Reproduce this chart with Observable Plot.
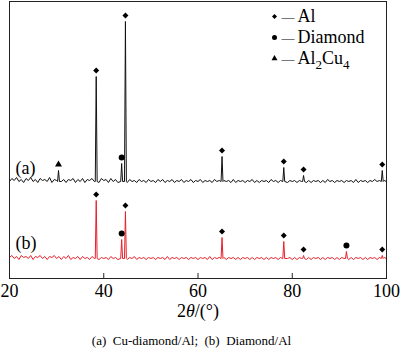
<!DOCTYPE html>
<html><head><meta charset="utf-8">
<script src="https://cdn.jsdelivr.net/npm/d3@7"></script>
<script src="https://cdn.jsdelivr.net/npm/@observablehq/plot@0.6"></script>
<style>
body{margin:0;background:#fff;}
svg, svg text{font-family:"Liberation Serif","Times New Roman",serif !important;}
#caption{font-family:"Liberation Serif","Times New Roman",serif;font-size:13px;line-height:15px;white-space:pre;text-align:center;width:383px;margin-top:15px;color:#000;}
</style></head><body>
<div id="chart"></div>
<div id="caption"></div>
<script>
// ---- data ----
const xTicks = [20, 40, 60, 80, 100];
const phases = ["Al", "Diamond", "Al2Cu4"];
const labels = ["(a)", "(b)"];
const captionText = "(a)  Cu-diamond/Al;  (b)  Diamond/Al";
const axisLabel = "2θ/(°)";

// sample (a): Cu-diamond/Al
const anglesA  = [30.4, 38.4, 43.8, 44.6, 65.1, 78.2, 82.4, 99.1];
const heightsA = [12, 106, 19, 161, 26, 15, 7, 12];
const phasesA  = ["Al2Cu4", "Al", "Diamond", "Al", "Al", "Al", "Al", "Al"];
// sample (b): Diamond/Al
const anglesB  = [38.4, 43.8, 44.6, 65.1, 78.2, 82.4, 91.5, 99.1];
const heightsB = [59, 20, 48, 22, 18, 4, 8, 4];
const phasesB  = ["Al", "Diamond", "Al", "Al", "Al", "Al", "Diamond", "Al"];

// background counts read every 0.5° from 20° to 100°
const noiseA = [1,4,2,5,1,3,0,4,2,5, 1,3,0,4,2,3,1,5,0,3, 2,4,1,3,0,3,2,4,0,3, 1,4,0,3,2,4,1,3,0,4,
  2,3,0,4,1,3,0,2,1,3, 0,3,1,2,0,3,1,2,0,3, 1,2,0,3,1,3,0,2,1,3, 0,2,1,3,0,2,1,3,0,2,
  1,3,0,2,1,2,0,3,1,2, 0,2,1,2,0,3,0,2,1,2, 0,2,1,3,0,2,0,2,1,2, 0,3,1,2,0,2,1,2,0,2,
  1,2,0,2,1,3,0,2,0,2, 1,2,0,2,0,3,1,2,0,2, 1,2,0,2,1,2,0,3,0,2, 1,2,0,2,1,3,1,2,0,2, 1];
const noiseB = [2,4,1,3,0,4,2,3,1,4, 0,3,2,4,1,3,0,3,2,4, 1,3,0,3,1,4,0,2,1,3, 0,3,1,2,0,3,1,3,0,2,
  1,2,0,3,1,2,0,2,1,3, 0,2,1,3,0,2,1,2,0,2, 1,2,0,2,1,2,0,3,0,2, 1,2,0,2,1,2,0,2,1,2,
  0,2,1,2,0,3,0,2,1,2, 0,2,0,2,1,2,0,2,0,2, 1,2,0,2,0,2,1,2,0,2, 0,2,1,2,0,2,0,2,1,2,
  0,2,0,2,1,2,0,2,0,2, 1,2,0,2,0,2,1,2,0,2, 0,2,1,2,0,2,0,2,1,2, 0,2,0,2,1,2,0,2,0,2, 1];

// vertical stacking offsets of the two patterns (intensity units)
const offsetA = 96, offsetB = 19;

// ---- build tables ----
function trace(noise, angles, heights, offset) {
  const pts = [];
  noise.forEach((n, i) => {
    const x = 20 + 0.5 * i;
    if (angles.some(a => Math.abs(a - x) < 0.3)) return;
    pts.push({x, y: offset + n});
  });
  angles.forEach((a, j) => {
    pts.push({x: a - 0.2, y: offset + 1});
    pts.push({x: a, y: offset + heights[j]});
    pts.push({x: a + 0.2, y: offset + 1});
  });
  return pts.sort((p, q) => p.x - q.x);
}
const traceA = trace(noiseA, anglesA, heightsA, offsetA);
const traceB = trace(noiseB, anglesB, heightsB, offsetB);
const peaks = [
  ...anglesA.map((a, i) => ({x: a, y: offsetA + heightsA[i], phase: phasesA[i]})),
  ...anglesB.map((a, i) => ({x: a, y: offsetB + heightsB[i], phase: phasesB[i]}))
];

const symStyle = {
  Al: {symbol: "square", rotate: 45, r: 2.4},
  Diamond: {symbol: "circle", r: 3},
  Al2Cu4: {symbol: "triangle", r: 2.6}
};
const legendStyle = {
  Al: {symbol: "square", rotate: 45, r: 2},
  Diamond: {symbol: "circle", r: 2.5},
  Al2Cu4: {symbol: "triangle", r: 2.2}
};

const peakMarks = phases.map(p => Plot.dot(peaks.filter(d => d.phase === p), {
  x: "x", y: "y", dy: -6, fill: "#000", stroke: "none", ...symStyle[p]
}));

const legendMarks = phases.flatMap((p, i) => [
  Plot.dot([p], {frameAnchor: "top-left", dx: 265, dy: 15 + 21 * i, fill: "#000", stroke: "none", ...legendStyle[p]}),
  Plot.text([p], {frameAnchor: "top-left", dx: 278.5, dy: 15 + 21 * i, text: () => "—", fontSize: 13, textAnchor: "middle", lineAnchor: "middle"}),
  Plot.text([p], {frameAnchor: "top-left", dx: 288, dy: 15 + 21 * i, text: d => d, textAnchor: "start", lineAnchor: "middle"})
]);

const chart = Plot.plot({
  width: 400, height: 318,
  marginLeft: 9, marginRight: 14, marginTop: 1, marginBottom: 40,
  x: {domain: [20, 100]},
  y: {domain: [0, 277], axis: null},
  style: {fontFamily: "Liberation Serif, serif", fontSize: "18px", color: "#000", background: "#fff", overflow: "visible"},
  marks: [
    Plot.axisX(xTicks, {tickSize: -5, tickPadding: 11, stroke: "#222", label: null}),
    Plot.line(traceA, {x: "x", y: "y", stroke: "#111", strokeWidth: 1}),
    Plot.line(traceB, {x: "x", y: "y", stroke: "#e8202a", strokeWidth: 1}),
    ...peakMarks,
    Plot.text([labels[0]], {frameAnchor: "left", y: () => offsetA, dx: 6, dy: -14, text: d => d, textAnchor: "start", lineAnchor: "middle"}),
    Plot.text([labels[1]], {frameAnchor: "left", y: () => offsetB, dx: 6, dy: -16, text: d => d, textAnchor: "start", lineAnchor: "middle"}),
    ...legendMarks,
    Plot.text([axisLabel], {frameAnchor: "bottom", dy: 33, text: d => d, lineAnchor: "middle"}),
    Plot.frame({stroke: "#222", strokeWidth: 1})
  ]
});

chart.querySelectorAll("text").forEach(t => {
  if (t.textContent === "Al2Cu4") {
    t.innerHTML = 'Al<tspan dy="5" font-size="13">2</tspan><tspan dy="-5">Cu</tspan><tspan dy="5" font-size="13">4</tspan>';
  } else if (t.textContent === axisLabel) {
    t.innerHTML = '2<tspan font-style="italic">θ</tspan>/(°)';
  }
});

document.getElementById("chart").appendChild(chart);
document.getElementById("caption").textContent = captionText;
</script></body></html>
